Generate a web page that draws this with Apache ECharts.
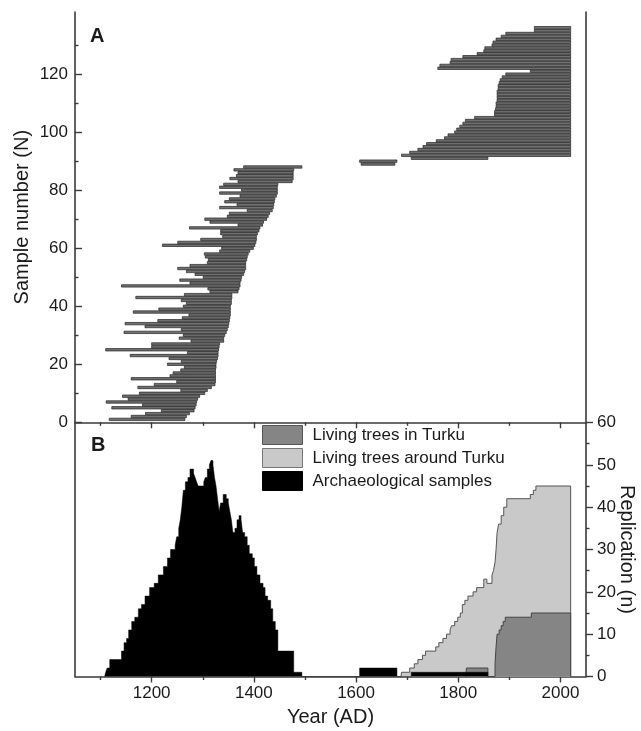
<!DOCTYPE html>
<html>
<head>
<meta charset="utf-8">
<script src="https://cdn.jsdelivr.net/npm/echarts@6/dist/echarts.min.js"></script>
<style>
  html, body { margin: 0; padding: 0; background: #fff; }
  #chart { width: 641px; height: 731px; }
</style>
</head>
<body>
<div id="chart"></div>
<script>
// panel A: one line per sample, N = index + 1
const sampleStart = [
  1117, 1160, 1188, 1219, 1122, 1182, 1111, 1154, 1143, 1176,
  1257, 1173, 1205, 1249, 1160, 1236, 1242, 1257, 1264, 1231,
  1258, 1234, 1158, 1270, 1110, 1200, 1200, 1277, 1254, 1262,
  1146, 1258, 1187, 1148, 1212, 1260, 1273, 1164, 1214, 1262,
  1268, 1258, 1169, 1264, 1314, 1310, 1141, 1275, 1255, 1301,
  1285, 1268, 1251, 1275, 1309, 1311, 1305, 1303, 1333, 1337,
  1221, 1251, 1296, 1339, 1335, 1335, 1274, 1369, 1314, 1304,
  1348, 1352, 1387, 1333, 1367, 1343, 1352, 1373, 1333, 1376,
  1333, 1341, 1369, 1353, 1366, 1369, 1361, 1380, 1610, 1607,
  1708, 1689, 1705, 1721, 1731, 1738, 1757, 1773, 1780, 1793,
  1797, 1803, 1809, 1814, 1832, 1871, 1871, 1873, 1874, 1874,
  1876, 1876, 1876, 1876, 1878, 1878, 1880, 1882, 1886, 1893,
  1941, 1760, 1764, 1784, 1786, 1809, 1837, 1850, 1852, 1866,
  1868, 1874, 1884, 1893, 1949, 1949
];
const sampleEnd = [
  1265, 1268, 1274, 1283, 1285, 1287, 1288, 1290, 1294, 1304,
  1309, 1317, 1324, 1325, 1325, 1325, 1325, 1325, 1326, 1326,
  1327, 1329, 1330, 1330, 1331, 1332, 1333, 1341, 1341, 1343,
  1346, 1348, 1350, 1351, 1352, 1353, 1354, 1354, 1354, 1354,
  1356, 1356, 1357, 1357, 1369, 1371, 1373, 1373, 1375, 1376,
  1380, 1382, 1384, 1384, 1384, 1386, 1387, 1389, 1392, 1399,
  1402, 1404, 1405, 1405, 1407, 1410, 1412, 1417, 1419, 1425,
  1428, 1431, 1436, 1438, 1439, 1440, 1441, 1444, 1446, 1446,
  1446, 1447, 1475, 1477, 1477, 1477, 1478, 1494, 1676, 1680,
  1858, 2020, 2020, 2020, 2020, 2020, 2020, 2020, 2020, 2020,
  2020, 2020, 2020, 2020, 2020, 2020, 2020, 2020, 2020, 2020,
  2020, 2020, 2020, 2020, 2020, 2020, 2020, 2020, 2020, 2020,
  2020, 2020, 2020, 2020, 2020, 2020, 2020, 2020, 2020, 2020,
  2020, 2020, 2020, 2020, 2020, 2020
];

// panel B: replication, [year, n] (value holds from that year on)
const archaeological = [
  [1108, 0], [1110, 1], [1113, 2], [1118, 4], [1141, 6], [1146, 8], [1151, 9],
  [1155, 11], [1161, 13], [1167, 14], [1174, 16], [1180, 17], [1187, 19],
  [1196, 21], [1205, 22], [1213, 24], [1223, 26], [1231, 28], [1237, 30],
  [1246, 31], [1249, 33], [1253, 35], [1256, 37], [1259, 40], [1262, 44],
  [1266, 46], [1271, 47], [1275, 49], [1282, 48], [1285, 47], [1288, 46],
  [1291, 45], [1302, 46], [1305, 47], [1309, 49], [1313, 50], [1316, 51],
  [1320, 50], [1323, 47], [1326, 45], [1329, 42], [1332, 39], [1335, 41],
  [1340, 43], [1346, 42], [1350, 41], [1353, 39], [1356, 37], [1359, 34],
  [1363, 35], [1367, 37], [1371, 38], [1375, 37], [1378, 34], [1382, 33],
  [1387, 31], [1391, 29], [1397, 28], [1401, 26], [1406, 24], [1412, 22],
  [1418, 21], [1422, 19], [1427, 18], [1433, 16], [1437, 13], [1442, 11],
  [1447, 6], [1478, 1], [1494, 0], [1607, 2], [1680, 0], [1708, 1], [1858, 0]
];
const aroundTurku = [
  [1688, 0], [1689, 1], [1705, 2], [1714, 3], [1721, 4], [1730, 5], [1736, 6],
  [1756, 7], [1762, 8], [1770, 9], [1777, 10], [1784, 11], [1787, 12],
  [1793, 13], [1799, 14], [1804, 15], [1808, 17], [1813, 18], [1819, 19],
  [1829, 20], [1836, 21], [1850, 23], [1856, 22], [1866, 24], [1869, 25],
  [1872, 27], [1874, 30], [1876, 34], [1879, 36], [1884, 38], [1889, 40],
  [1895, 42], [1941, 43], [1947, 44], [1952, 45], [2020, 0]
];
const inTurku = [
  [1815, 0], [1816, 2], [1858, 0], [1872, 3], [1874, 7], [1876, 10],
  [1880, 11], [1884, 12], [1888, 13], [1892, 14], [1943, 15], [2020, 0]
];

const seriesNames = ['Living trees in Turku', 'Living trees around Turku', 'Archaeological samples'];
const yearMajorTicks = [1200, 1400, 1600, 1800, 2000];
const yearMinorTicks = [1100, 1300, 1500, 1700, 1900];
const sampleMajorTicks = [0, 20, 40, 60, 80, 100, 120];
const sampleMinorTicks = [10, 30, 50, 70, 90, 110, 130];

const samples = sampleStart.map((s, i) => [s, sampleEnd[i], i + 1]);

const FONT = '"Liberation Sans", Arial, sans-serif';
const INK = '#1a1a1a';
const AXIS = '#3a3a3a';

const chart = echarts.init(document.getElementById('chart'), null, { renderer: 'canvas' });

const frameLine = { show: true, lineStyle: { color: AXIS, width: 1.6 } };
const noLine = { show: false };
const off = { show: false };

chart.setOption({
  animation: false,
  backgroundColor: '#fff',
  textStyle: { fontFamily: FONT, color: INK },
  grid: [
    { left: 75, right: 55, top: 12, height: 410.3, outerBoundsMode: 'none' },
    { left: 75, right: 55, top: 422.5, height: 254, outerBoundsMode: 'none' }
  ],
  xAxis: [
    // panel A top frame with mirrored ticks
    {
      type: 'value', gridIndex: 0, position: 'top', min: 1050, max: 2050,
      axisLine: frameLine,
      axisTick: { inside: true, length: 6, customValues: yearMajorTicks, lineStyle: { color: AXIS, width: 1.4 } },
      axisLabel: off, splitLine: off
    },
    {
      type: 'value', gridIndex: 0, position: 'top', min: 1050, max: 2050,
      axisLine: noLine,
      axisTick: { inside: true, length: 3.5, customValues: yearMinorTicks, lineStyle: { color: AXIS, width: 1.4 } },
      axisLabel: off, splitLine: off
    },
    // panel B bottom axis
    {
      type: 'value', gridIndex: 1, position: 'bottom', min: 1050, max: 2050,
      name: 'Year (AD)', nameLocation: 'middle', nameGap: 31, nameMoveOverlap: false,
      nameTextStyle: { fontSize: 20, color: INK, fontFamily: FONT },
      axisLine: frameLine,
      axisTick: { inside: false, length: 6, customValues: yearMajorTicks, lineStyle: { color: AXIS, width: 1.4 } },
      axisLabel: { customValues: yearMajorTicks, fontSize: 17, color: INK, fontFamily: FONT, margin: 8, formatter: (v) => String(v) },
      splitLine: off
    },
    {
      type: 'value', gridIndex: 1, position: 'bottom', min: 1050, max: 2050,
      axisLine: noLine,
      axisTick: { inside: false, length: 3.5, customValues: yearMinorTicks, lineStyle: { color: AXIS, width: 1.4 } },
      axisLabel: off, splitLine: off
    }
  ],
  yAxis: [
    // panel A sample number
    {
      type: 'value', gridIndex: 0, position: 'left', min: 0, max: 141.4,
      name: 'Sample number (N)', nameLocation: 'middle', nameGap: 43, nameMoveOverlap: false,
      nameTextStyle: { fontSize: 20, color: INK, fontFamily: FONT },
      axisLine: frameLine,
      axisTick: { inside: true, length: 7, customValues: sampleMajorTicks, lineStyle: { color: AXIS, width: 1.4 } },
      axisLabel: { customValues: sampleMajorTicks, fontSize: 17, color: INK, fontFamily: FONT, margin: 7 },
      splitLine: off
    },
    {
      type: 'value', gridIndex: 0, position: 'left', min: 0, max: 141.4,
      axisLine: noLine,
      axisTick: { inside: true, length: 3.5, customValues: sampleMinorTicks, lineStyle: { color: AXIS, width: 1.4 } },
      axisLabel: off, splitLine: off
    },
    {
      type: 'value', gridIndex: 0, position: 'right', min: 0, max: 141.4,
      axisLine: frameLine, axisTick: off, axisLabel: off, splitLine: off
    },
    // panel B replication
    {
      type: 'value', gridIndex: 1, position: 'right', min: 0, max: 60, interval: 10,
      name: 'Replication (n)', nameLocation: 'middle', nameGap: 31, nameRotate: -90, nameMoveOverlap: false,
      nameTextStyle: { fontSize: 20, color: INK, fontFamily: FONT },
      axisLine: frameLine,
      axisTick: { inside: false, length: 7, lineStyle: { color: AXIS, width: 1.4 } },
      minorTick: { show: true, splitNumber: 2, length: 3.5, lineStyle: { color: AXIS, width: 1.4 } },
      axisLabel: { fontSize: 17, color: INK, fontFamily: FONT, margin: 11 },
      splitLine: off
    },
    {
      type: 'value', gridIndex: 1, position: 'left', min: 0, max: 60,
      axisLine: frameLine, axisTick: off, axisLabel: off, splitLine: off
    }
  ],
  legend: {
    orient: 'vertical', left: 262, top: 425, padding: 0,
    itemWidth: 40, itemHeight: 19, itemGap: 3, icon: 'rect',
    selectedMode: false,
    textStyle: { fontSize: 17, color: INK, fontFamily: FONT, padding: [0, 0, 0, 5] },
    data: [
      { name: seriesNames[0], itemStyle: { color: '#858585', borderColor: '#555', borderWidth: 1 } },
      { name: seriesNames[1], itemStyle: { color: '#c9c9c9', borderColor: '#777', borderWidth: 1 } },
      { name: seriesNames[2], itemStyle: { color: '#000', borderColor: '#000', borderWidth: 1 } }
    ]
  },
  graphic: [
    { type: 'text', left: 90, top: 26, style: { text: 'A', font: 'bold 20px ' + FONT, fill: INK } },
    { type: 'text', left: 91, top: 435, style: { text: 'B', font: 'bold 20px ' + FONT, fill: INK } }
  ],
  series: [
    {
      type: 'custom',
      name: 'samples',
      xAxisIndex: 0,
      yAxisIndex: 0,
      data: samples,
      encode: { x: [0, 1], y: 2 },
      renderItem: (params, api) => {
        const a = api.coord([api.value(0), api.value(2)]);
        const b = api.coord([api.value(1), api.value(2)]);
        return {
          type: 'rect',
          shape: { x: a[0], y: a[1] - 1.2, width: b[0] - a[0], height: 2.4 },
          style: { fill: '#707070', stroke: '#222', lineWidth: 0.7 }
        };
      }
    },
    {
      type: 'line',
      name: seriesNames[1],
      xAxisIndex: 2,
      yAxisIndex: 3,
      step: 'end',
      symbol: 'none',
      data: aroundTurku,
      itemStyle: { color: '#c9c9c9' },
      lineStyle: { color: '#555', width: 1 },
      areaStyle: { color: '#c9c9c9', opacity: 1 },
      z: 2
    },
    {
      type: 'line',
      name: seriesNames[0],
      xAxisIndex: 2,
      yAxisIndex: 3,
      step: 'end',
      symbol: 'none',
      data: inTurku,
      itemStyle: { color: '#858585' },
      lineStyle: { color: '#444', width: 1 },
      areaStyle: { color: '#858585', opacity: 1 },
      z: 3
    },
    {
      type: 'line',
      name: seriesNames[2],
      xAxisIndex: 2,
      yAxisIndex: 3,
      step: 'end',
      symbol: 'none',
      data: archaeological,
      itemStyle: { color: '#000' },
      lineStyle: { color: '#000', width: 0.5 },
      areaStyle: { color: '#000', opacity: 1 },
      z: 4
    }
  ]
});
</script>
</body>
</html>
